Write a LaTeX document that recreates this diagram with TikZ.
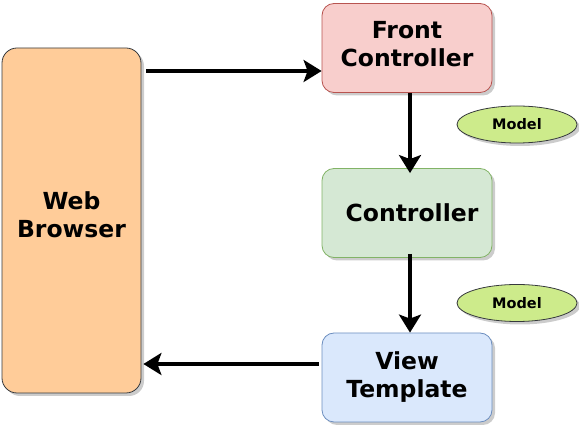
\documentclass[tikz,border=0pt]{standalone}
\usepackage{fontspec}
\setmainfont{DejaVu Sans}
\usetikzlibrary{arrows.meta,shadows,shapes.geometric}
\definecolor{browserfill}{HTML}{FFCC99}
\definecolor{frontfill}{HTML}{F8CECC}
\definecolor{frontline}{HTML}{B85450}
\definecolor{ctrlfill}{HTML}{D5E8D4}
\definecolor{ctrlline}{HTML}{82B366}
\definecolor{viewfill}{HTML}{DAE8FC}
\definecolor{viewline}{HTML}{6C8EBF}
\definecolor{modelfill}{HTML}{CDEB8B}
\definecolor{darkline}{HTML}{36393D}
\begin{document}
\begin{tikzpicture}[x=1pt,y=-1pt,
    shade/.style={drop shadow={shadow xshift=3pt,shadow yshift=-3pt,opacity=0.4,fill=gray}},
    box/.style={rectangle,rounded corners=12pt,minimum width=170pt,minimum height=89pt,align=center,
        font=\fontsize{23.5}{28}\selectfont\bfseries,line width=0.8pt,shade,inner sep=0pt},
    model/.style={ellipse,draw=darkline,fill=modelfill,minimum width=120pt,minimum height=37pt,
        font=\fontsize{14.5}{17}\selectfont\bfseries,line width=0.8pt,shade,inner sep=0pt},
    flow/.style={-{Stealth[length=18pt,width=22pt,inset=4pt]},line width=4pt}]
    \useasboundingbox (0,0) rectangle (579,427);
    \node[box,draw=darkline,fill=browserfill,rounded corners=15pt,minimum width=139pt,minimum height=345pt,text depth=12pt] (WB) at (71.5,220.5) {Web\\Browser};
    \node[box,draw=frontline,fill=frontfill,text depth=8pt] (FC) at (407,48) {Front\\Controller};
    \node[box,draw=ctrlline,fill=ctrlfill] (C) at (407,213) {\hspace{10pt}Controller};
    \node[box,draw=viewline,fill=viewfill,text depth=5pt] (VT) at (407,377.5) {View\\Template};
    \node[model] (M1) at (517,124.5) {Model};
    \node[model] (M2) at (517,303) {Model};
    \coordinate (FCin) at ([yshift=-23]FC.west);
    \coordinate (VTout) at ([yshift=13.5,xshift=-3]VT.west);
    \draw [flow] ([xshift=5]WB.east |- FCin) -- (FCin);
    \draw [flow] ([xshift=3]FC.south) -- ([xshift=3,yshift=-5]C.north);
    \draw [flow] ([xshift=3,yshift=4]C.south) -- ([xshift=3]VT.north);
    \draw [flow] (VTout) -- ([xshift=2]WB.east |- VTout);
\end{tikzpicture}
\end{document}
